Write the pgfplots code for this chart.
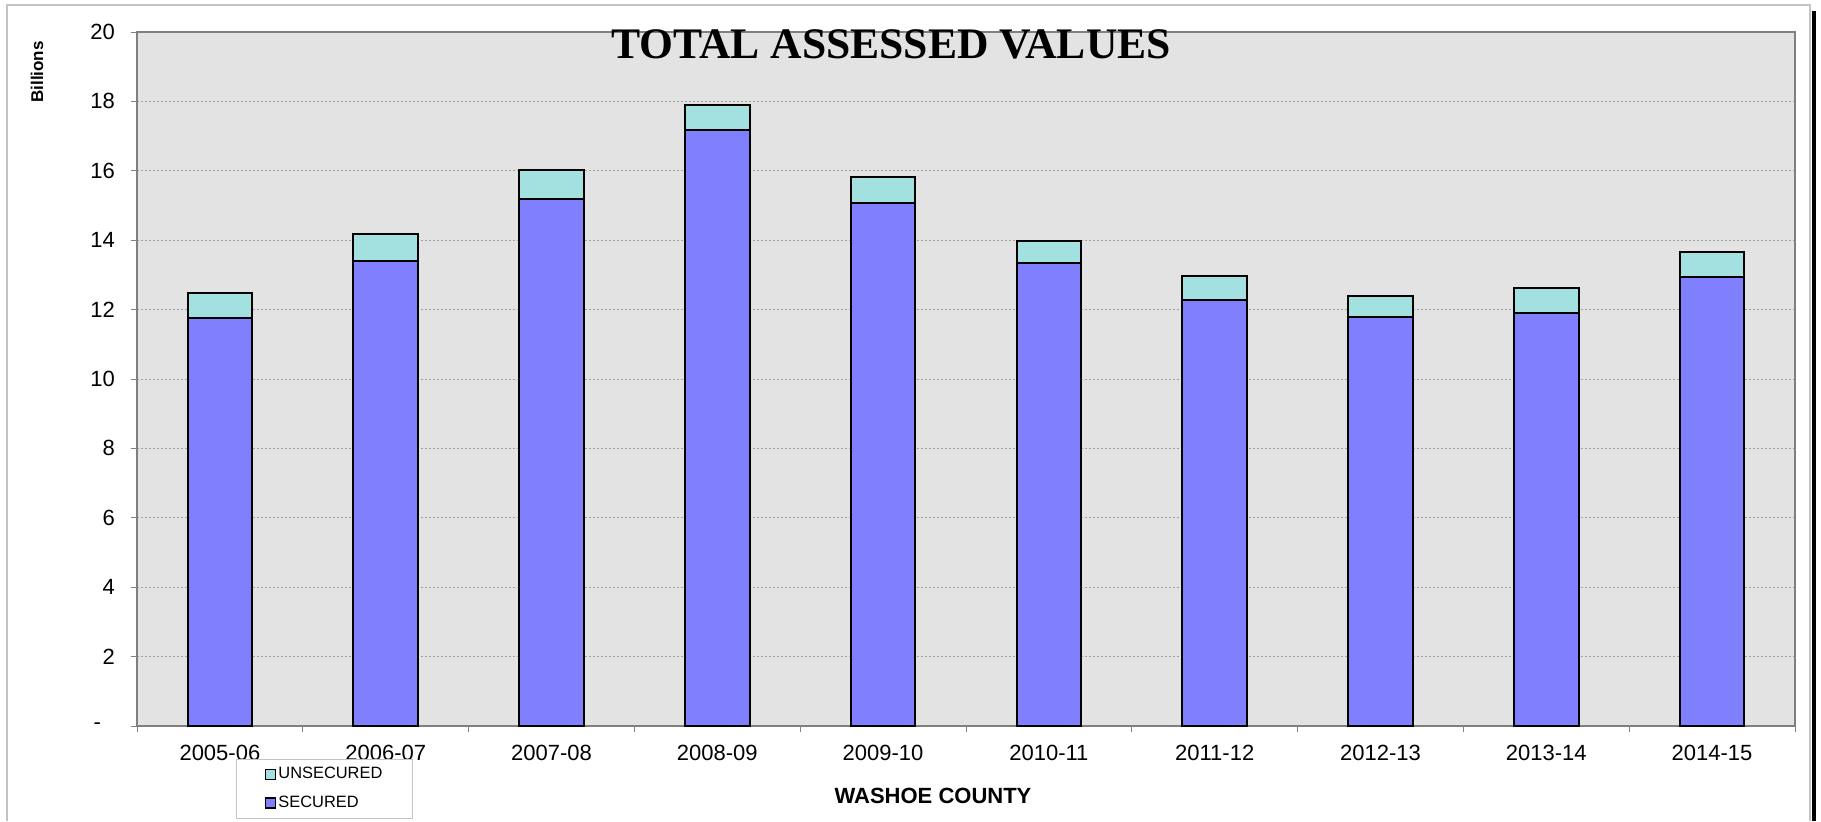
\documentclass[border=0pt]{standalone}
\usepackage{fontspec}
\setmainfont{Liberation Sans}
\newfontfamily\titlefont{Liberation Serif}
\usepackage{pgfplots}
\usepackage{pgfplotstable}
\pgfplotsset{compat=1.18}

\definecolor{secured}{RGB}{128,128,255}
\definecolor{unsecured}{RGB}{163,224,224}
\definecolor{plotbg}{RGB}{227,227,227}
\definecolor{framegray}{RGB}{128,128,128}
\definecolor{gridgray}{RGB}{160,160,160}
\definecolor{bordergray}{RGB}{195,195,195}

% values in billions
\pgfplotstableread{
idx year    secured unsecured
0   2005-06 11.75   0.74
1   2006-07 13.40   0.77
2   2007-08 15.20   0.81
3   2008-09 17.17   0.74
4   2009-10 15.07   0.75
5   2010-11 13.33   0.66
6   2011-12 12.28   0.68
7   2012-13 11.79   0.60
8   2013-14 11.90   0.73
9   2014-15 12.94   0.71
}\assessed

\begin{document}
\begin{tikzpicture}
\useasboundingbox (0,0) rectangle (910.5pt,410.5pt);
% outer chart frame and the dark edge on the right
\draw[bordergray, line width=0.8pt] (3.6pt,0) -- (3.6pt,408pt) -- (905pt,408pt) -- (905pt,0);
\fill[black] (906.2pt,0) rectangle (908pt,405pt);

\begin{axis}[
  at={(68.5pt,47.5pt)}, anchor=south west,
  scale only axis, width=829pt, height=347pt,
  ybar stacked, bar width=0.39,
  xmin=-0.5, xmax=9.5, ymin=0, ymax=20,
  xtick={-0.5,0.5,...,9.5},
  x tick label as interval,
  xticklabels={2005-06,2006-07,2007-08,2008-09,2009-10,2010-11,2011-12,2012-13,2013-14,2014-15},
  ytick={0,2,...,20},
  yticklabels={{-\rule{7pt}{0pt}},2,4,6,8,10,12,14,16,18,20},
  tick pos=left, tick align=outside, major tick length=3pt,
  tick style={framegray, line width=0.5pt},
  xticklabel style={font=\fontsize{11pt}{13pt}\selectfont, yshift=-3pt},
  yticklabel style={font=\fontsize{11pt}{13pt}\selectfont, xshift=-4.5pt},
  axis background/.style={fill=plotbg},
  axis line style={framegray, line width=0.8pt},
  ymajorgrids,
  grid style={gridgray, dash pattern=on 1pt off 1pt, line width=0.35pt},
  reverse legend,
  legend cell align=left,
  legend image code/.code={\draw[#1,draw=black,line width=0.8pt] (0pt,-2.5pt) rectangle (5pt,2.5pt);},
  legend style={at={(0.060,-0.0476)}, anchor=north west, draw=bordergray, fill=white,
    font=\fontsize{8.2pt}{9.5pt}\selectfont, inner xsep=14pt, inner ysep=3pt, row sep=5pt,
    nodes={inner sep=1pt}},
]
\addplot[fill=secured, draw=black, line width=1pt] table[x=idx, y=secured] {\assessed};
\addlegendentry{SECURED}
\addplot[fill=unsecured, draw=black, line width=1pt] table[x=idx, y=unsecured] {\assessed};
\addlegendentry{UNSECURED}
\end{axis}

\node[font=\titlefont\bfseries\fontsize{21.8pt}{24pt}\selectfont] at (445.5pt,388.5pt) {TOTAL ASSESSED VALUES};
\node[rotate=90, font=\bfseries\fontsize{8.5pt}{10pt}\selectfont] at (18.5pt,374.5pt) {Billions};
\node[font=\bfseries\fontsize{11pt}{13pt}\selectfont] at (466.5pt,12.5pt) {WASHOE COUNTY};
\end{tikzpicture}
\end{document}
